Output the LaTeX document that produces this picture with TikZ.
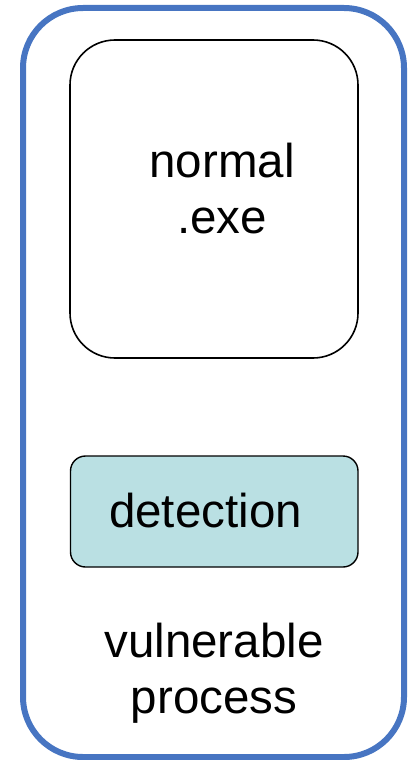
\documentclass[tikz,border=0pt]{standalone}
\usepackage{fontspec}
\setmainfont{Liberation Sans}
\definecolor{outerblue}{HTML}{4775C2}
\definecolor{detfill}{HTML}{BAE0E3}
\begin{document}
\begin{tikzpicture}[x=1pt,y=-1pt,
  lbl/.style={font=\fontsize{47.5}{56}\selectfont, align=center, inner sep=0pt, anchor=base}]
\useasboundingbox (0,0) rectangle (409,760);
\draw[outerblue, line width=6pt, rounded corners=60pt] (23,8) rectangle (404,757);
\draw[black, line width=1.6pt, rounded corners=45pt] (70,40) rectangle (358,358);
\draw[black, line width=1.4pt, fill=detfill, rounded corners=15pt] (70.5,456) rectangle (358,567);
\node[lbl] (exe) at (222,233) {normal\\.exe};
\node[lbl] (det) at (205.5,527) {detection};
\node[lbl] (vp) at (214,713) {vulnerable\\process};
\end{tikzpicture}
\end{document}
